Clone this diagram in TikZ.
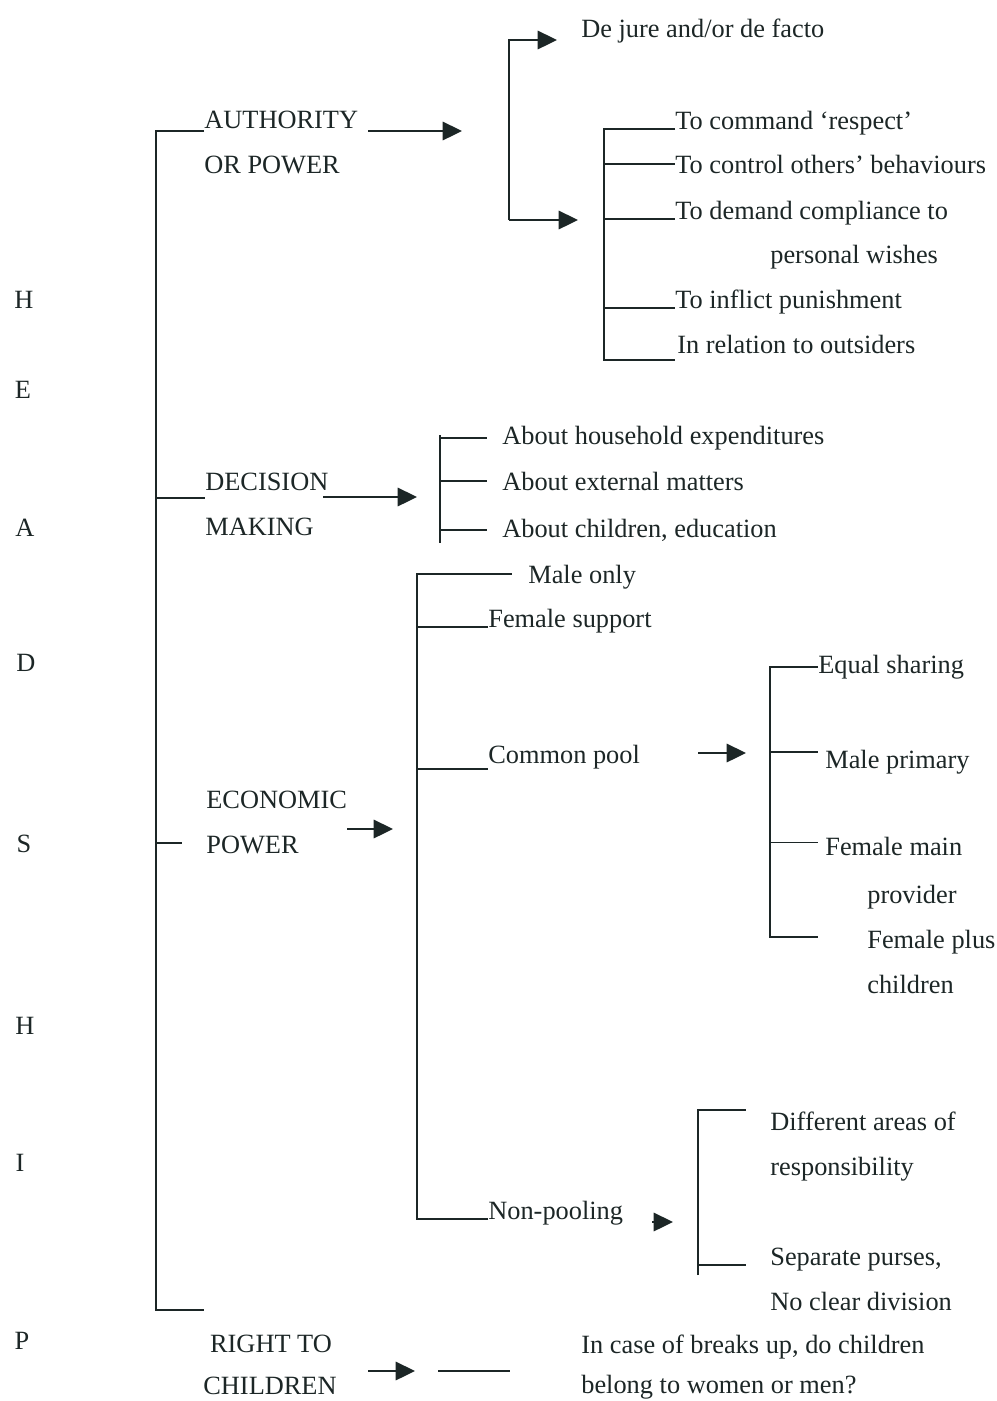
\documentclass[tikz,border=0pt]{standalone}
\usepackage{fontspec}
\setmainfont{Liberation Serif}
\usetikzlibrary{arrows.meta}
\definecolor{ink}{HTML}{1C2626}

\begin{document}
\begin{tikzpicture}[x=0.02cm, y=-0.02cm,
    txt/.style={anchor=base west, inner sep=0pt, text=ink, font=\fontsize{15}{18}\selectfont},
    letter/.style={txt, anchor=base},
    wire/.style={draw=ink, line width=1.1pt},
    arr/.style={wire, -{Triangle[length=11pt, width=10.5pt]}}]
    \useasboundingbox (0,0) rectangle (997,1401);

    \node[letter] (h1) at (24,308) {H};
    \node[letter] (e) at (23,398) {E};
    \node[letter] (a) at (25,536) {A};
    \node[letter] (d) at (26,671) {D};
    \node[letter] (s) at (24,852) {S};
    \node[letter] (h2) at (25,1034) {H};
    \node[letter] (i) at (20,1171) {I};
    \node[letter] (p) at (22,1349) {P};

    \node[txt] (auth) at (204,128) {AUTHORITY};
    \node[txt] (orpow) at (204,173) {OR POWER};
    \node[txt] (dec) at (205,490) {DECISION};
    \node[txt] (making) at (205,535) {MAKING};
    \node[txt] (eco) at (206,808) {ECONOMIC};
    \node[txt] (ecopow) at (206,853) {POWER};
    \node[letter] (right) at (271,1352) {RIGHT TO};
    \node[letter] (child) at (270,1394) {CHILDREN};

    \coordinate (top) at (156,131);
    \coordinate (bot) at (156,1310);
    \coordinate (authT) at (204,131);
    \coordinate (decT) at (205,498);
    \coordinate (ecoT) at (182,843);
    \coordinate (botT) at (204,1310);
    \draw[wire] (authT) -- (top) -- (bot) -- (botT);
    \draw[wire] (decT -| top) -- (decT);
    \draw[wire] (ecoT -| top) -- (ecoT);

    \node[txt] (jure) at (581,37) {De jure and/or de facto};
    \coordinate (authA) at (368,131);
    \coordinate (authB) at (462,131);
    \coordinate (subTop) at (509,40);
    \coordinate (subBot) at (509,220);
    \coordinate (jureA) at (557,40);
    \coordinate (cmdA) at (578,220);
    \draw[arr] (authA) -- (authB);
    \draw[arr] (subBot) -- (subTop) -- (jureA);
    \draw[arr] (subBot) -- (cmdA);

    \node[txt] (respect) at (675,129) {To command ‘respect’};
    \node[txt] (control) at (675,173) {To control others’ behaviours};
    \node[txt] (demand) at (675,219) {To demand compliance to};
    \node[txt] (wishes) at (770,263) {personal wishes};
    \node[txt] (punish) at (675,308) {To inflict punishment};
    \node[txt] (outsid) at (677,353) {In relation to outsiders};
    \coordinate (cmdBot) at (604,360);
    \draw[wire] (respect.base west) -| (cmdBot) -- (cmdBot -| respect.west);
    \draw[wire] (control.west -| cmdBot) -- (control.west);
    \draw[wire] (demand.base west -| cmdBot) -- (demand.base west);
    \draw[wire] (punish.base west -| cmdBot) -- (punish.base west);

    \node[txt] (house) at (502,444) {About household expenditures};
    \node[txt] (extern) at (502,490) {About external matters};
    \node[txt] (kids) at (502,537) {About children, education};
    \coordinate (decA) at (323,497);
    \coordinate (decB) at (417,497);
    \coordinate (decTop) at (440,435);
    \coordinate (decBot) at (440,543);
    \draw[arr] (decA) -- (decB);
    \draw[wire] (decTop) -- (decBot);
    \draw[wire, shorten >=8.5pt] (house.west -| decTop) -- (house.west);
    \draw[wire, shorten >=8.5pt] (extern.west -| decTop) -- (extern.west);
    \draw[wire, shorten >=8.5pt] (kids.west -| decTop) -- (kids.west);

    \node[txt] (male) at (528,583) {Male only};
    \node[txt] (fsup) at (488,627) {Female support};
    \node[txt] (pool) at (488,763) {Common pool};
    \node[txt] (nopool) at (488,1219) {Non-pooling};
    \coordinate (ecoA) at (347,829);
    \coordinate (ecoB) at (393,829);
    \coordinate (ecoTop) at (417,574);
    \coordinate (maleT) at (512,574);
    \draw[arr] (ecoA) -- (ecoB);
    \draw[wire] (nopool.base west) -| (ecoTop) -- (maleT);
    \draw[wire] (fsup.base west -| ecoTop) -- (fsup.base west);
    \draw[wire] (pool.south west -| ecoTop) -- (pool.south west);

    \node[txt] (equal) at (818,673) {Equal sharing};
    \node[txt] (mprim) at (825,768) {Male primary};
    \node[txt] (fmain) at (825,855) {Female main};
    \node[txt] (provid) at (867,903) {provider};
    \node[txt] (fplus) at (867,948) {Female plus};
    \node[txt] (fkids) at (867,993) {children};
    \coordinate (poolA) at (698,753);
    \coordinate (poolB) at (746,753);
    \coordinate (shareBot) at (770,937);
    \draw[arr] (poolA) -- (poolB);
    \draw[wire] (equal.west) -| (shareBot) -- ++(48,0);
    \draw[wire] ([yshift=-1.5pt]mprim.north west -| shareBot) -- ++(48,0);
    \draw[wire] ([yshift=-3.5pt]fmain.north west -| shareBot) -- ++(48,0);

    \node[txt] (areas) at (770,1130) {Different areas of};
    \node[txt] (resp) at (770,1175) {responsibility};
    \node[txt] (purses) at (770,1265) {Separate purses,};
    \node[txt] (nodiv) at (770,1310) {No clear division};
    \coordinate (npA) at (652,1222);
    \coordinate (npB) at (673,1222);
    \coordinate (npTop) at (698,1110);
    \coordinate (npBot) at (698,1275);
    \draw[arr] (npA) -- (npB);
    \draw[wire] (npBot) -- (npTop) -- ++(48,0);
    \draw[wire, shorten >=13.6pt] (purses.base west -| npTop) -- (purses.base west);

    \node[txt] (breaks) at (581,1353) {In case of breaks up, do children};
    \node[txt] (belong) at (581,1393) {belong to women or men?};
    \coordinate (rA) at (368,1371);
    \coordinate (rB) at (415,1371);
    \coordinate (rC) at (438,1371);
    \coordinate (rD) at (510,1371);
    \draw[arr] (rA) -- (rB);
    \draw[wire] (rC) -- (rD);
\end{tikzpicture}
\end{document}
